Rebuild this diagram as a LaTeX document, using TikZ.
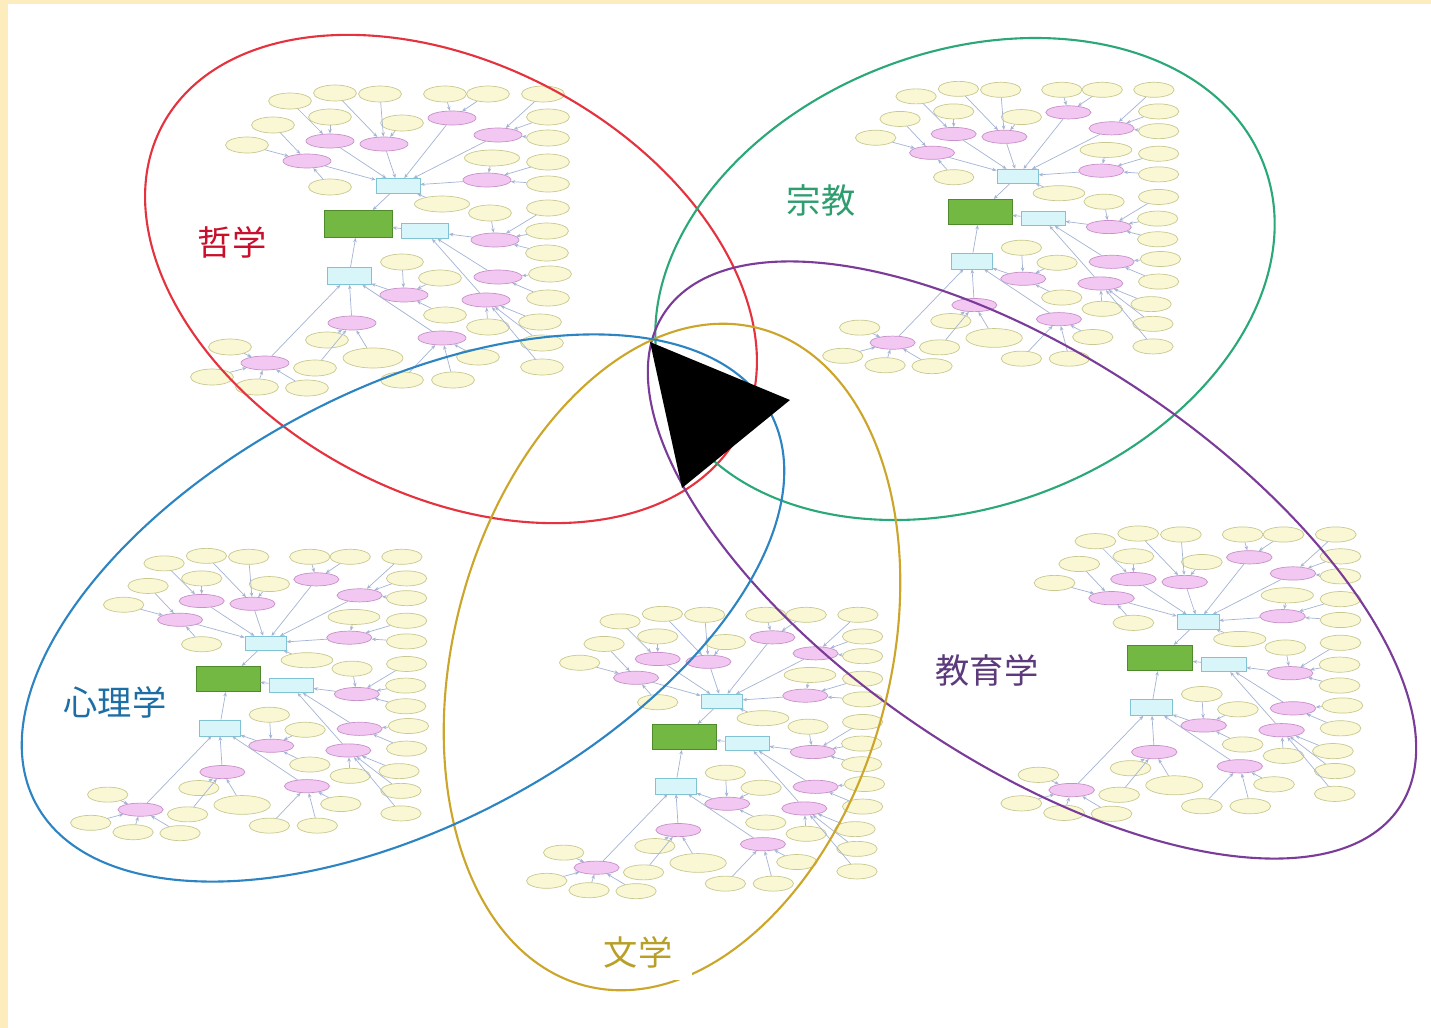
\documentclass[tikz,border=0pt]{standalone}
\usepackage{fontspec}
\newfontfamily\jp{Noto Sans CJK JP}
\usetikzlibrary{shapes.geometric,arrows.meta}

\definecolor{redset}{HTML}{E4323E}
\definecolor{greenset}{HTML}{2BA878}
\definecolor{purpleset}{HTML}{7A3C98}
\definecolor{goldset}{HTML}{CCA62A}
\definecolor{blueset}{HTML}{2C84C2}
\definecolor{redtxt}{HTML}{C8102E}
\definecolor{greentxt}{HTML}{2E9E6E}
\definecolor{bluetxt}{HTML}{1C6EA4}
\definecolor{purpletxt}{HTML}{5C3A7C}
\definecolor{goldtxt}{HTML}{B8A028}
\definecolor{ydraw}{HTML}{C8C890}
\definecolor{yfill}{HTML}{FAF8D4}
\definecolor{pdraw}{HTML}{C890C8}
\definecolor{pfill}{HTML}{F2C8F2}
\definecolor{cdraw}{HTML}{80C4D4}
\definecolor{cfill}{HTML}{D8F6FA}
\definecolor{gdraw}{HTML}{4E8A2C}
\definecolor{gfill}{HTML}{72B842}
\definecolor{edgec}{HTML}{A4B4D4}
\definecolor{frameyel}{HTML}{FDEDBE}

\tikzset{
  yel/.style={ellipse, draw=ydraw, fill=yfill, minimum width=0.86cm, minimum height=0.32cm, inner sep=0pt},
  wyel/.style={yel, minimum width=1.2cm, minimum height=0.4cm},
  pnk/.style={ellipse, draw=pdraw, fill=pfill, minimum width=0.96cm, minimum height=0.28cm, inner sep=0pt},
  hub/.style={rectangle, draw=cdraw, fill=cfill, minimum width=0.88cm, minimum height=0.3cm, inner sep=0pt},
  root/.style={rectangle, draw=gdraw, fill=gfill, minimum width=1.36cm, minimum height=0.54cm, inner sep=0pt},
  link/.style={draw=edgec, line width=0.4pt, -{Stealth[length=2.5pt,width=2pt]}},
  setline/.style={line width=1.2pt},
  setlabel/.style={font=\jp\fontsize{19.5}{22}\selectfont, fill=white, inner sep=2pt},
  cmap/.pic={
    % hubs
    \node[root] (g) at (0,0) {};
    \node[hub] (c1) at (40,-38) {};
    \node[hub, minimum width=0.94cm] (c2) at (67,7) {};
    \node[hub, minimum height=0.34cm] (c3) at (-9,52) {};
    % second level
    \node[pnk] (p1) at (-51,-63) {};
    \node[pnk] (p2) at (-28,-83) {};
    \node[pnk] (p3) at (26,-80) {};
    \node[pnk] (p4) at (94,-106) {};
    \node[pnk] (p5) at (140,-89) {};
    \node[pnk] (p6) at (129,-44) {};
    \node[pnk] (p7) at (137,16) {};
    \node[pnk] (p8) at (140,53) {};
    \node[pnk] (p9) at (128,76) {};
    \node[pnk] (p10) at (46,71) {};
    \node[pnk] (p11) at (-6,99) {};
    \node[pnk] (p12) at (84,114) {};
    \node[pnk] (p13) at (-93,139) {};
    % leaves
    \node[yel] (y1) at (-68,-123) {};
    \node[yel] (y2) at (-23,-131) {};
    \node[yel] (y3) at (22,-130) {};
    \node[yel] (y4) at (-28,-107) {};
    \node[yel] (y5) at (-85,-99) {};
    \node[yel] (y6) at (-111,-79) {};
    \node[yel] (y7) at (44,-101) {};
    \node[yel] (y8) at (87,-130) {};
    \node[yel] (y9) at (130,-130) {};
    \node[yel] (y10) at (185,-130) {};
    \node[yel] (y11) at (190,-107) {};
    \node[yel] (y12) at (190,-86) {};
    \node[yel, minimum width=1.1cm] (y13) at (134,-66) {};
    \node[yel] (y14) at (190,-62) {};
    \node[yel] (y15) at (190,-40) {};
    \node[yel] (y16) at (-28,-37) {};
    \node[yel, minimum width=1.1cm] (y17) at (84,-20) {};
    \node[yel] (y18) at (132,-11) {};
    \node[yel] (y19) at (190,-16) {};
    \node[yel] (y20) at (189,7) {};
    \node[yel] (y21) at (189,29) {};
    \node[yel] (y22) at (192,50) {};
    \node[yel] (y23) at (190,74) {};
    \node[yel] (y24) at (44,38) {};
    \node[yel] (y25) at (82,54) {};
    \node[yel] (y26) at (87,91) {};
    \node[yel] (y27) at (130,103) {};
    \node[yel] (y28) at (182,98) {};
    \node[yel] (y29) at (184,119) {};
    \node[yel] (y30) at (184,143) {};
    \node[yel] (y31) at (-31,116) {};
    \node[wyel] (y32) at (15,134) {};
    \node[yel] (y33) at (120,133) {};
    \node[yel] (y34) at (-43,144) {};
    \node[yel] (y35) at (44,156) {};
    \node[yel] (y36) at (95,156) {};
    \node[yel] (y37) at (-128,123) {};
    \node[yel] (y38) at (-146,153) {};
    \node[yel] (y39) at (-101,163) {};
    \node[yel] (y40) at (-51,164) {};
    % links
    \foreach \a/\b in {c1/g, c2/g, c3/g,
        p1/c1, p2/c1, p3/c1, p4/c1, p5/c1, p6/c1, y17/c1,
        p7/c2, p8/c2, p9/c2, p10/c3, p11/c3, p12/c3, p13/c3,
        y5/p1, y6/p1, y16/p1, y1/p2, y4/p2, y2/p3, y3/p3, y7/p3,
        y8/p4, y9/p4, y10/p5, y11/p5, y12/p5, y13/p6, y14/p6, y15/p6,
        y18/p7, y19/p7, y20/p7, y21/p7, y22/p8, y23/p8,
        y27/p9, y28/p9, y29/p9, y30/p9, y24/p10, y25/p10, y26/p10,
        y31/p11, y32/p11, y34/p11, y33/p12, y35/p12, y36/p12,
        y37/p13, y38/p13, y39/p13, y40/p13}
      \draw[link] (\a) -- (\b);
  }
}

\begin{document}
\begin{tikzpicture}[x=0.02cm, y=-0.02cm]
  \useasboundingbox (0,0) rectangle (1431,1028);
  % frame
  \fill[frameyel] (0,0) rectangle (1431,1028);
  \fill[white] (8,4) rectangle (1431,1028);

  % concept maps
  \pic (mphil) at (358,224) {cmap};
  \pic[scale=0.94, transform shape] (mrel) at (980,212) {cmap};
  \pic[scale=0.94, transform shape] (mpsy) at (228,679) {cmap};
  \pic[scale=0.94, transform shape] (mlit) at (684,737) {cmap};
  \pic[scale=0.95, transform shape] (medu) at (1160,658) {cmap};

  % sets
  \draw[setline, redset, rotate around={-28:(451,279)}] (451,279) ellipse [x radius=327, y radius=215];
  \draw[setline, greenset, rotate around={21:(965,279)}] (965,279) ellipse [x radius=320, y radius=227];
  \draw[setline, purpleset, rotate around={-34:(1032,560)}] (1032,560) ellipse [x radius=443, y radius=201];
  \draw[setline, goldset, rotate around={-15:(672,657)}] (672,657) ellipse [x radius=218, y radius=340];
  \draw[setline, blueset, rotate around={28:(403,608)}] (403,608) ellipse [x radius=416, y radius=217];

  % labels
  \node[setlabel, text=redtxt] (phil) at (232,242) {哲学};
  \node[setlabel, text=greentxt] (rel) at (821,200) {宗教};
  \node[setlabel, text=bluetxt] (psy) at (115,702) {心理学};
  \node[setlabel, text=purpletxt] (edu) at (987,670) {教育学};
  \node[setlabel, text=goldtxt, anchor=west, text width=1.7cm, align=left, inner ysep=7pt] (lit) at (600,952) {文学};

  % play mark
  \fill[black] (650,342) -- (790,400) -- (682,488) -- cycle;
\end{tikzpicture}
\end{document}
